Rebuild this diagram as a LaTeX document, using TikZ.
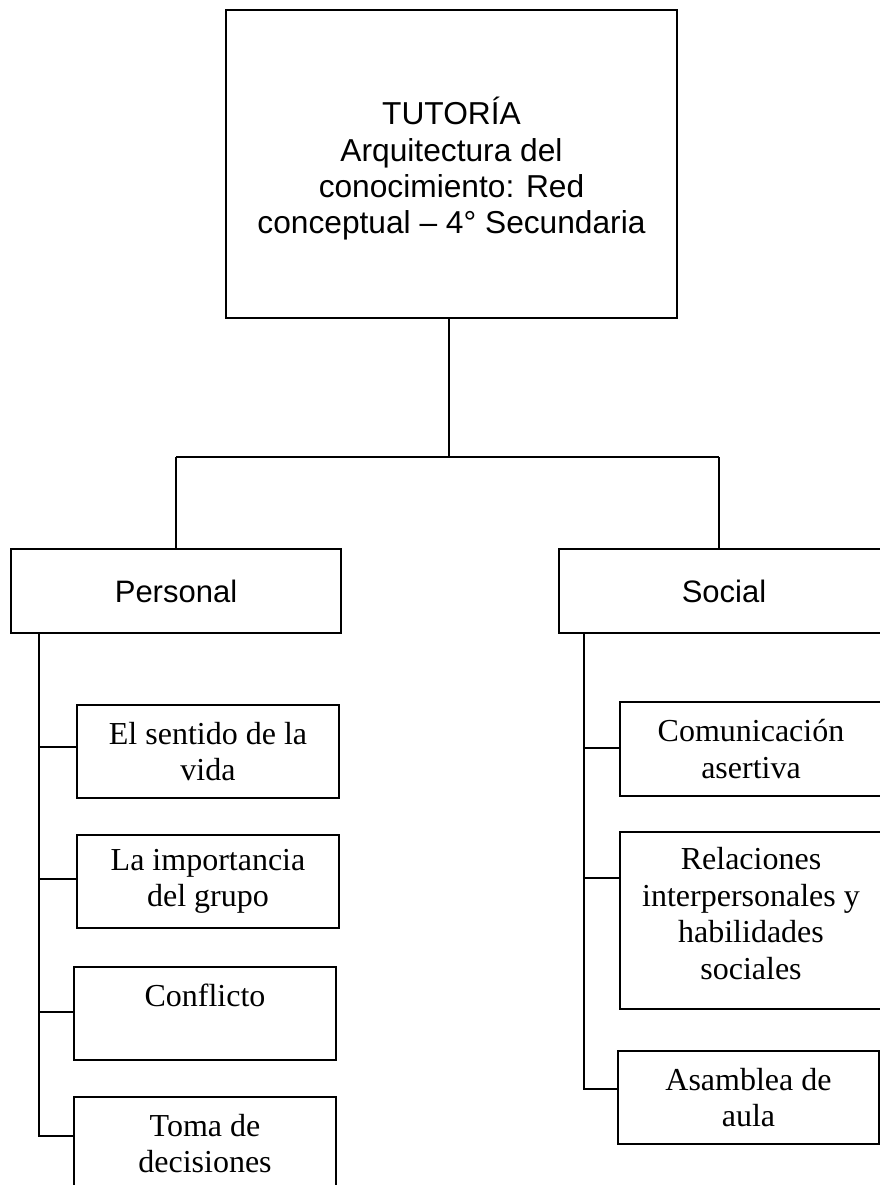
\documentclass[tikz,border=0pt]{standalone}
\usepackage{fontspec}
\setmainfont{Liberation Serif}
\newfontfamily\arialfont{Liberation Sans}
\begin{document}
\begin{tikzpicture}[x=1pt,y=-1pt,
  box/.style={draw=black, line width=1.5pt, rectangle, inner sep=0pt, align=center},
  topbox/.style={box, font=\arialfont\fontsize{31.7pt}{36.3pt}\selectfont},
  catbox/.style={box, minimum width=330pt, minimum height=84pt, font=\arialfont\fontsize{31pt}{36pt}\selectfont},
  itembox/.style={box, minimum width=262pt, minimum height=93pt, font=\fontsize{32pt}{36.5pt}\selectfont},
  link/.style={line width=1.5pt, black}]
\useasboundingbox (0,0) rectangle (880,1185);

\node[topbox, minimum width=451pt, minimum height=308pt] (top) at (451.5,164)
  {\rule{0pt}{37pt}TUTORÍA\\Arquitectura del\\conocimiento: Red\\conceptual – 4° Secundaria};

\node[catbox] (personal) at (176,591) {Personal};
\node[catbox] (social) at (724,591) {Social};

\node[itembox] (s1) at (208,751.5) {El sentido de la\\vida};
\node[itembox] (s2) at (208,881.5) {La importancia\\del grupo};
\node[itembox] (s3) at (205,1013.5) {Conflicto\\~};
\node[itembox] (s4) at (205,1143.5) {Toma de\\decisiones};

\node[itembox, minimum height=94pt] (r1) at (751,749) {Comunicación\\asertiva};
\node[itembox, minimum height=177pt] (r2) at (751,920.5) {Relaciones\\interpersonales y\\habilidades\\sociales\rule[-14pt]{0pt}{0pt}};
\node[itembox, minimum width=261pt] (r3) at (748.5,1097.5) {Asamblea de\\aula};

\coordinate (tc) at (449,318);
\coordinate (hl) at (176,457);
\coordinate (hr) at (719,457);
\draw[link] (tc |- top.south) -- (tc |- hl);
\draw[link] (hl) -- (hr);
\draw[link] (hl) -- (personal.north);
\draw[link] (hr) -- (hr |- social.north);

\coordinate (lb1) at (39,747);
\coordinate (lb2) at (39,879);
\coordinate (lb3) at (39,1012);
\coordinate (lb4) at (39,1136);
\draw[link] (personal.south -| lb4) -- (lb4) -- (lb4 -| s4.west);
\draw[link] (lb1) -- (lb1 -| s1.west);
\draw[link] (lb2) -- (lb2 -| s2.west);
\draw[link] (lb3) -- (lb3 -| s3.west);

\coordinate (rb1) at (584,748);
\coordinate (rb2) at (584,878);
\coordinate (rb3) at (584,1089);
\draw[link] (social.south -| rb3) -- (rb3) -- (rb3 -| r3.west);
\draw[link] (rb1) -- (rb1 -| r1.west);
\draw[link] (rb2) -- (rb2 -| r2.west);
\end{tikzpicture}
\end{document}
